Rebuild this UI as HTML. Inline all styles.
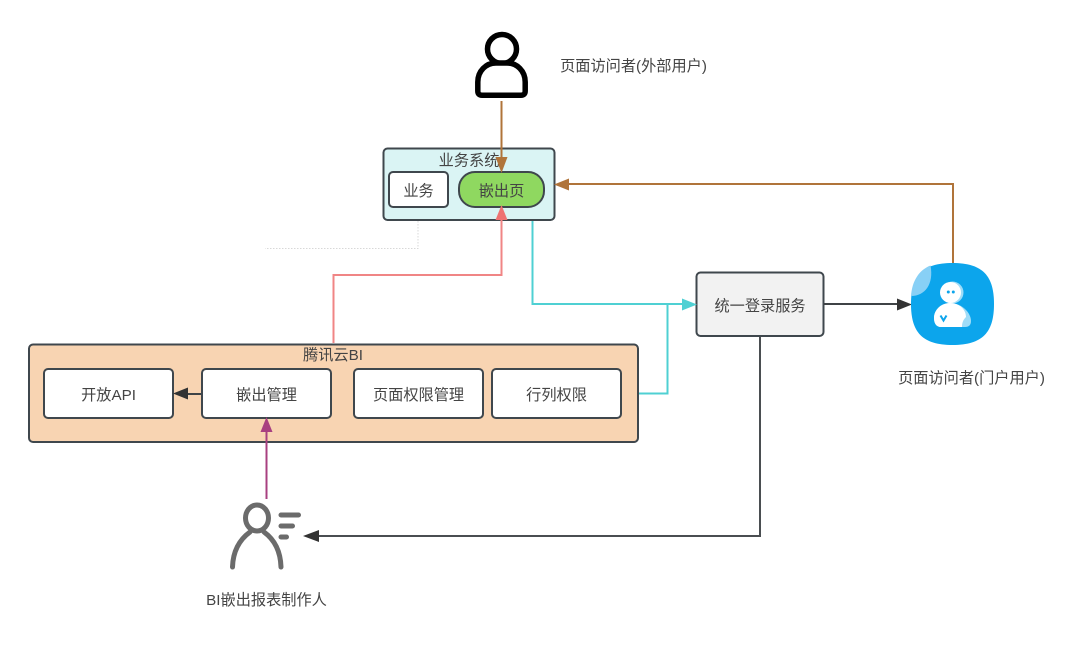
<!DOCTYPE html>
<html lang="zh">
<head>
<meta charset="utf-8">
<style>
html,body{margin:0;padding:0;background:#fff;width:1080px;height:651px;overflow:hidden}
svg{display:block}
text{font-family:"Liberation Sans","Noto Sans CJK SC",sans-serif;fill:#444;font-size:15.200px;text-anchor:middle}
.b{stroke:#3f474d;stroke-width:2}
</style>
</head>
<body>
<svg width="1080" height="651" viewBox="0 0 1080 651" xmlns="http://www.w3.org/2000/svg">
<rect width="1080" height="651" fill="#fff"/>

<!-- dotted line -->
<path d="M418 221V248.500H265" fill="none" stroke="#d8d8d8" stroke-width="1" stroke-dasharray="1.500 1.500"/>

<!-- business system -->
<rect x="383.500" y="148.500" width="171" height="71.500" rx="4" fill="#daf4f4" class="b"/>
<text x="469" y="165.500">业务系统</text>
<rect x="389" y="172" width="59" height="35" rx="4" fill="#fff" class="b"/>
<text x="418.500" y="196">业务</text>
<rect x="459" y="172" width="85" height="35" rx="16" fill="#8fd860" class="b"/>
<text x="501.500" y="196">嵌出页</text>

<!-- Tencent BI -->
<rect x="29" y="344.500" width="609" height="97.500" rx="4" fill="#f8d4b2" class="b"/>
<text x="333" y="360">腾讯云BI</text>
<rect x="44" y="369" width="129" height="49" rx="4" fill="#fff" class="b"/>
<text x="108.500" y="400">开放API</text>
<rect x="202" y="369" width="129" height="49" rx="4" fill="#fff" class="b"/>
<text x="266.500" y="400">嵌出管理</text>
<rect x="354" y="369" width="129" height="49" rx="4" fill="#fff" class="b"/>
<text x="418.500" y="400">页面权限管理</text>
<rect x="492" y="369" width="129" height="49" rx="4" fill="#fff" class="b"/>
<text x="556.500" y="400">行列权限</text>

<!-- SSO -->
<rect x="696.500" y="272.500" width="127" height="63.500" rx="4" fill="#f2f2f2" class="b"/>
<text x="760" y="311">统一登录服务</text>

<!-- connectors -->
<path d="M501.500 101V158" fill="none" stroke="#b0743a" stroke-width="2"/>
<path d="M495.500 157H507.500L501.500 173Z" fill="#b0743a"/>
<path d="M953 263V184H568" fill="none" stroke="#b0743a" stroke-width="2"/>
<path d="M554 184.500L569 178.500V190.500Z" fill="#b0743a"/>
<path d="M333.500 343V275H501.500V219" fill="none" stroke="#f08585" stroke-width="2"/>
<path d="M501.500 205L507.500 220H495.500Z" fill="#ee7272"/>
<path d="M532.500 221V304H683" fill="none" stroke="#4fd0d3" stroke-width="2"/>
<path d="M639 393.500H667.500V304" fill="none" stroke="#4fd0d3" stroke-width="2"/>
<path d="M682 298.500L697 304.500L682 310.500Z" fill="#4fd0d3"/>
<path d="M824 304H898" fill="none" stroke="#3f4346" stroke-width="2"/>
<path d="M897 298.500L912 304.500L897 310.500Z" fill="#333"/>
<path d="M760 337V536H318" fill="none" stroke="#4a4e51" stroke-width="2"/>
<path d="M303 536L319 530V542Z" fill="#333"/>
<path d="M201 394H187" fill="none" stroke="#3f4346" stroke-width="2"/>
<path d="M173 393.500L188 387.500V399.500Z" fill="#333"/>
<path d="M266.500 499V431" fill="none" stroke="#a84080" stroke-width="2"/>
<path d="M266.500 417L272.500 432H260.500Z" fill="#a84080"/>

<!-- top user -->
<circle cx="502" cy="49" r="14.500" fill="#fff" stroke="#000" stroke-width="5.500"/>
<path d="M477.800 91V82C477.800 71 486 63 496 63H507C517 63 525.200 71 525.200 82V91Q525.200 95.200 521 95.200H482Q477.800 95.200 477.800 91Z" fill="#fff" stroke="#000" stroke-width="5.500"/>
<text x="633.500" y="71">页面访问者(外部用户)</text>

<!-- portal icon -->
<path d="M952.500 263C983 263 994 276 994 304C994 332 983 345 952.500 345C922 345 911 332 911 304C911 276 922 263 952.500 263Z" fill="#0ca5ec"/>
<path d="M930.500 265.500C919 270 912 281 911 296C925 296 934 284 930.500 265.500Z" fill="#88d0f6"/>
<circle cx="952.500" cy="292.500" r="11" fill="#9edcf8"/>
<circle cx="950.500" cy="292.500" r="10.500" fill="#fff"/>
<path d="M950 303C962 303 971 313 971 321Q971 327 965 327H941C936 327 934 323 934 318C934 310 941 303 950 303Z" fill="#9edcf8"/>
<path d="M950 303C960 303 966 310 966 317C963 320 962 323 962 327H941C936 327 934 323 934 318C934 310 941 303 950 303Z" fill="#fff"/>
<circle cx="948.300" cy="292" r="1.500" fill="#0ca5ec"/>
<circle cx="953.300" cy="292" r="1.500" fill="#0ca5ec"/>
<path d="M940.500 315.500L943.500 320.500L946.500 315.500" fill="none" stroke="#0ca5ec" stroke-width="2"/>
<text x="971.500" y="383">页面访问者(门户用户)</text>

<!-- BI author -->
<g fill="none" stroke="#6b6b6b" stroke-width="5" stroke-linecap="round">
<ellipse cx="257" cy="518" rx="11.500" ry="13"/>
<path d="M232.500 567C233 552 239 540 250 532"/>
<path d="M281 567C280.500 552 275 540 264 532"/>
<path d="M281 515H298.500M281 526H292.500M281 537H286.500"/>
</g>
<text x="266.500" y="605">BI嵌出报表制作人</text>
</svg>
</body>
</html>
